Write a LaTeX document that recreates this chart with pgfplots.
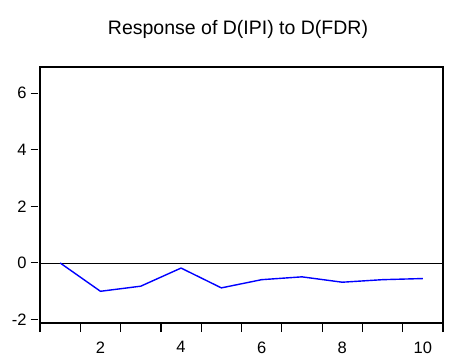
\documentclass[border=0pt]{standalone}
\usepackage{fontspec}
\setmainfont{Liberation Sans}
\usepackage{pgfplots}
\pgfplotsset{compat=1.18}
\begin{document}
\begin{tikzpicture}[x=1pt,y=1pt]
\useasboundingbox (0,0) rectangle (449,356);
\node[font=\fontsize{19.5}{23}\selectfont, anchor=base] at (238,321) {Response of D(IPI) to D(FDR)};
\begin{axis}[
  at={(40pt,33pt)}, anchor=south west,
  scale only axis, width=403pt, height=256pt,
  xmin=0.5, xmax=10.5, ymin=-2.12, ymax=6.92,
  xtick={2,4,6,8,10}, major x tick style={draw=none},
  minor xtick={0.5,1.5,...,10.5},
  ytick={-2,0,2,4,6},
  xtick pos=bottom, ytick pos=left,
  tick align=outside,
  major tick length=7pt, minor tick length=9pt,
  y tick style={xshift=-2.5pt, line width=1pt, black},
  x tick style={line width=1.2pt, black},
  axis line style={line width=1.2pt, black},
  /pgf/number format/assume math mode=true,
  ticklabel style={font=\fontsize{16.5}{19}\selectfont},
  xticklabel style={yshift=-8pt},
  yticklabel style={xshift=-3pt},
  clip=false,
]
\addplot[black, line width=0.7pt] coordinates {(0.5,0) (10.5,0)};
\addplot[blue, line width=1.4pt] coordinates {
(1,0) (2,-1.00) (3,-0.82) (4,-0.18) (5,-0.88) (6,-0.59) (7,-0.49) (8,-0.68) (9,-0.59) (10,-0.55)};
\end{axis}
\end{tikzpicture}
\end{document}
